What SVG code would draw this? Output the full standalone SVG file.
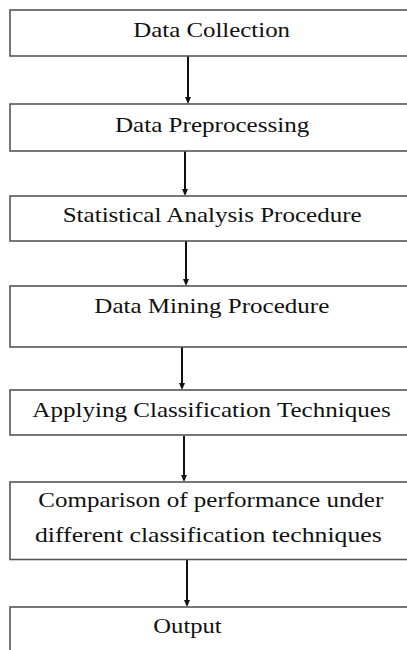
<svg xmlns="http://www.w3.org/2000/svg" width="407" height="650" viewBox="0 0 407 650">
<style>
.box{fill:#fff;stroke:#555;stroke-width:1.6}
.t{font-family:"Liberation Serif","Times New Roman",serif;font-size:21.5px;fill:#111}
.c{stroke:#111;stroke-width:2;fill:none}
.h{fill:#111}
</style>
<rect width="407" height="650" fill="#fff"/>
<g id="connectors">
<path class="c" d="M188,56 V98"/>
<path class="c" d="M185,151 V190"/>
<path class="c" d="M186,241 V280"/>
<path class="c" d="M182,347 V384"/>
<path class="c" d="M184,436 V476"/>
<path class="c" d="M187,560 V601"/>
<path class="h" d="M185,97 L191,97 L188,104 Z"/>
<path class="h" d="M182,189 L188,189 L185,196 Z"/>
<path class="h" d="M183,279 L189,279 L186,286 Z"/>
<path class="h" d="M179,383 L185,383 L182,390 Z"/>
<path class="h" d="M181,475 L187,475 L184,482 Z"/>
<path class="h" d="M184,600 L190,600 L187,607 Z"/>
</g>
<g id="n1"><rect class="box" x="10" y="10" width="410" height="46"/><text class="t" x="133.3" y="36.7" textLength="156.7" lengthAdjust="spacingAndGlyphs">Data Collection</text></g>
<g id="n2"><rect class="box" x="10" y="104" width="410" height="47"/><text class="t" x="115" y="131.7" textLength="194.3" lengthAdjust="spacingAndGlyphs">Data Preprocessing</text></g>
<g id="n3"><rect class="box" x="10" y="196" width="410" height="45"/><text class="t" x="62.7" y="221.7" textLength="299" lengthAdjust="spacingAndGlyphs">Statistical Analysis Procedure</text></g>
<g id="n4"><rect class="box" x="10" y="286" width="410" height="61"/><text class="t" x="94.3" y="313.3" textLength="235" lengthAdjust="spacingAndGlyphs">Data Mining Procedure</text></g>
<g id="n5"><rect class="box" x="10" y="390" width="410" height="45"/><text class="t" x="32.3" y="417.3" textLength="358.4" lengthAdjust="spacingAndGlyphs">Applying Classification Techniques</text></g>
<g id="n6"><rect class="box" x="10" y="482" width="410" height="77.5"/><text class="t" x="38.3" y="506.7" textLength="345" lengthAdjust="spacingAndGlyphs">Comparison of performance under</text><text class="t" x="35" y="541.7" textLength="346.7" lengthAdjust="spacingAndGlyphs">different classification techniques</text></g>
<g id="n7"><rect class="box" x="10" y="607" width="410" height="60"/><text class="t" x="153.3" y="632.7" textLength="68.4" lengthAdjust="spacingAndGlyphs">Output</text></g>
</svg>
